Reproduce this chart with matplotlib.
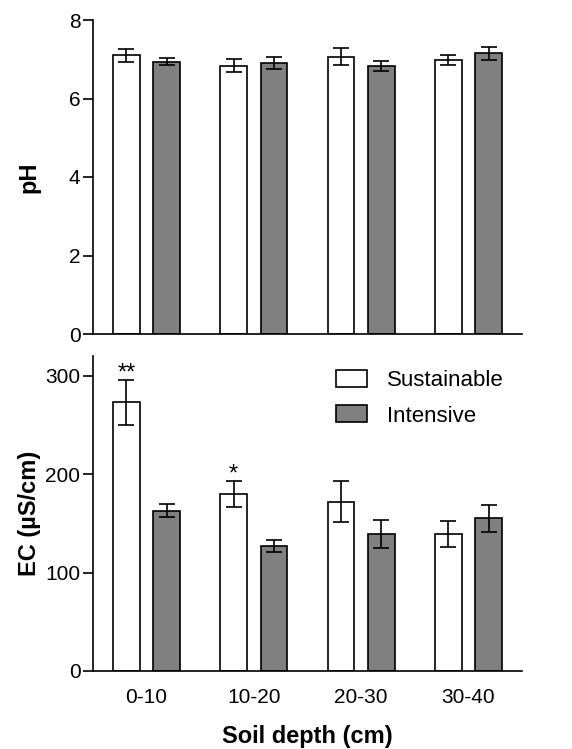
import numpy as np
import matplotlib.pyplot as plt

plt.rcParams['font.family'] = ['Liberation Sans', 'DejaVu Sans']

depths = ['0-10', '10-20', '20-30', '30-40']

# pH (mean, error)
ph_sust = [7.10, 6.84, 7.07, 6.98]
ph_sust_err = [0.16, 0.17, 0.21, 0.12]
ph_int = [6.94, 6.90, 6.83, 7.15]
ph_int_err = [0.08, 0.16, 0.13, 0.16]

# EC in uS/cm (mean, error)
ec_sust = [273, 180, 172, 139]
ec_sust_err = [23, 13, 21, 13]
ec_int = [163, 127, 139, 155]
ec_int_err = [7, 6, 14, 14]

ec_sig = ['**', '*', '', '']

W, H = 572, 749
fig = plt.figure(figsize=(W / 100, H / 100), dpi=100)

def ax_rect(x0, x1, ytop, ybot):
    return [x0 / W, 1 - ybot / H, (x1 - x0) / W, (ybot - ytop) / H]

ax1 = fig.add_axes(ax_rect(93, 522, 20, 334))
ax2 = fig.add_axes(ax_rect(93, 522, 356, 671))

x = np.arange(len(depths))
bw = 0.248
off = 0.188
white = 'white'
gray = '#808080'

def draw(ax, s, se, i, ie):
    ax.bar(x - off, s, bw, yerr=se, color=white, edgecolor='black', linewidth=1.2,
           capsize=5.5, error_kw=dict(elinewidth=1.2, capthick=1.2), label='Sustainable')
    ax.bar(x + off, i, bw, yerr=ie, color=gray, edgecolor='black', linewidth=1.2,
           capsize=5.5, error_kw=dict(elinewidth=1.2, capthick=1.2), label='Intensive')
    ax.set_xlim(-0.5, 3.5)
    for sp in ['top', 'right']:
        ax.spines[sp].set_visible(False)
    for sp in ['left', 'bottom']:
        ax.spines[sp].set_linewidth(1.2)
    ax.tick_params(axis='y', direction='out', length=7, width=1.2, labelsize=15, pad=2)
    ax.tick_params(axis='x', length=0, labelsize=15, pad=12)

draw(ax1, ph_sust, ph_sust_err, ph_int, ph_int_err)
ax1.set_ylim(0, 8)
ax1.set_yticks([0, 2, 4, 6, 8])
ax1.set_xticks([])
ax1.set_ylabel('pH', fontsize=17, fontweight='bold')
ax1.yaxis.set_label_coords(-0.122, 0.5)

draw(ax2, ec_sust, ec_sust_err, ec_int, ec_int_err)
ax2.set_ylim(0, 320)
ax2.set_yticks([0, 100, 200, 300])
ax2.set_xticks(x)
ax2.set_xticklabels(depths)
ax2.set_ylabel('EC (\u00b5S/cm)', fontsize=17, fontweight='bold')
ax2.yaxis.set_label_coords(-0.122, 0.5)
ax2.set_xlabel('Soil depth (cm)', fontsize=17, fontweight='bold', labelpad=13)

for xi, m, e, s in zip(x, ec_sust, ec_sust_err, ec_sig):
    if s:
        ax2.text(xi - off, m + e - 5, s, ha='center', va='bottom', fontsize=17)

ax2.legend(loc='upper right', bbox_to_anchor=(1.005, 1.02), frameon=False, fontsize=16,
           handlelength=1.4, handleheight=0.8, handletextpad=0.9, labelspacing=0.65)

fig.savefig('out.png', dpi=100)
